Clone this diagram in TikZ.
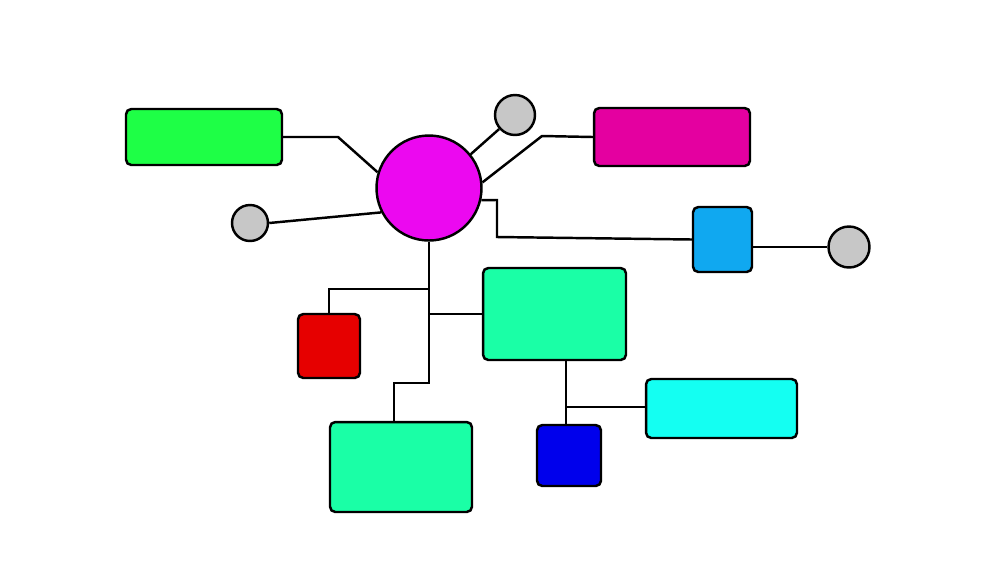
\documentclass[tikz,border=0pt]{standalone}
\definecolor{lime}{RGB}{30,255,70}
\definecolor{hubpink}{RGB}{236,8,240}
\definecolor{rose}{RGB}{228,0,160}
\definecolor{sky}{RGB}{16,168,240}
\definecolor{mint}{RGB}{26,255,166}
\definecolor{aqua}{RGB}{20,255,242}
\definecolor{navy}{RGB}{0,0,236}
\definecolor{ruby}{RGB}{230,0,0}

\begin{document}
\begin{tikzpicture}[x=0.02cm,y=-0.02cm,line width=1.4pt]
	\tikzstyle{every node}=[draw=black,line width=1.4pt,inner sep=0pt]
	\tikzstyle{box}=[rectangle,rounded corners=3pt]
	\tikzstyle{dot}=[circle,fill=black!22]
	\useasboundingbox (0,0) rectangle (1000,562);
	% nodes
	\node[circle,fill=hubpink,minimum size=2.1cm] (hub) at (429,188) {};
	\node[box,fill=lime,minimum width=3.12cm,minimum height=1.12cm] (left) at (204,137) {};
	\node[box,fill=rose,minimum width=3.12cm,minimum height=1.16cm] (right) at (672,137) {};
	\node[dot,minimum size=0.8cm] (dtop) at (515,115) {};
	\node[dot,minimum size=0.72cm] (dleft) at (250,223) {};
	\node[dot,minimum size=0.82cm] (dright) at (849,247) {};
	\node[box,fill=sky,minimum width=1.18cm,minimum height=1.3cm] (sq) at (722.5,239.5) {};
	\node[box,fill=ruby,minimum width=1.24cm,minimum height=1.28cm] (red) at (329,346) {};
	\node[box,fill=mint,minimum width=2.86cm,minimum height=1.84cm] (mid) at (554.5,314) {};
	\node[box,fill=mint,minimum width=2.84cm,minimum height=1.8cm] (low) at (401,467) {};
	\node[box,fill=navy,minimum width=1.28cm,minimum height=1.22cm] (blue) at (569,455.5) {};
	\node[box,fill=aqua,minimum width=3.02cm,minimum height=1.18cm] (cyan) at (721.5,408.5) {};
	% bends
	\coordinate (j1) at (428,289);
	\coordinate (j2) at (428,314);
	\coordinate (j3) at (394,383);
	\coordinate (j4) at (566,407);
	% links
	\draw (left.east) -- (338,137) -- (hub.163);
	\draw (dleft.east) -- (hub.207);
	\draw (hub.39) -- (dtop);
	\draw (hub.6) -- (542,136) -- (right.west);
	\draw (hub.-13) -- (497,200) -- (497,237) -- (sq.west);
	\draw (dright.west -| sq.east) -- (dright.west);
	\draw (hub.south) |- (j3) -- (j3 |- low.north);
	\draw (j1) -| (red.north);
	\draw (j2) -- (mid.west);
	\draw (j4 |- mid.south) -- (j4 |- blue.north);
	\draw (j4) -- (j4 -| cyan.west);
\end{tikzpicture}
\end{document}
